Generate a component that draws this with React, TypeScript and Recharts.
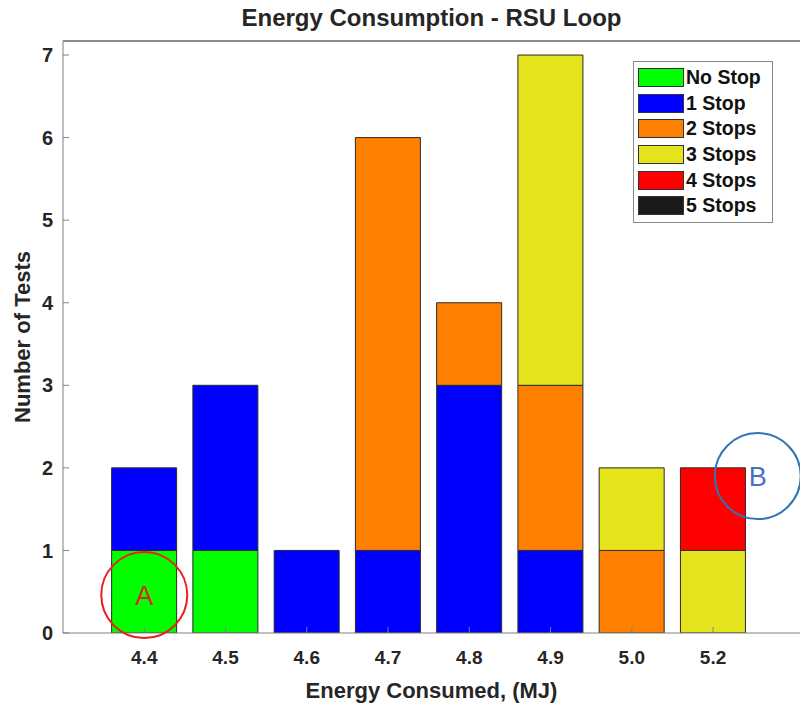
import {
  Bar,
  BarChart,
  Legend,
  ReferenceDot,
  XAxis,
  YAxis,
} from "recharts";

const energyLabels = ["4.4", "4.5", "4.6", "4.7", "4.8", "4.9", "5.0", "5.2"];
const noStop = [1, 1, 0, 0, 0, 0, 0, 0];
const oneStop = [1, 2, 1, 1, 3, 1, 0, 0];
const twoStops = [0, 0, 0, 5, 1, 2, 1, 0];
const threeStops = [0, 0, 0, 0, 0, 4, 1, 1];
const fourStops = [0, 0, 0, 0, 0, 0, 0, 1];
const fiveStops = [0, 0, 0, 0, 0, 0, 0, 0];

const seriesNames = ["No Stop", "1 Stop", "2 Stops", "3 Stops", "4 Stops", "5 Stops"];
const seriesColors = ["#00FF00", "#0000FF", "#FF8000", "#E5E41C", "#FF0000", "#1A1A1A"];
const seriesValues = [noStop, oneStop, twoStops, threeStops, fourStops, fiveStops];

const yTicks = [0, 1, 2, 3, 4, 5, 6, 7];

const data = energyLabels.map((label, i) => {
  const row: Record<string, number | string> = { pos: i + 1, label };
  seriesNames.forEach((name, s) => {
    row[name] = seriesValues[s][i];
  });
  return row;
});
const xTicks = data.map((d) => d.pos as number);

const FONT = "'Liberation Sans', Arial, sans-serif";
const TEXT = "#262626";

function LegendBox() {
  return (
    <div
      style={{
        border: "1px solid #8a8a8a",
        background: "#fff",
        padding: "3px 4px 3px 4px",
        fontFamily: FONT,
        fontWeight: "bold",
        fontSize: 19.5,
        color: "#111",
        width: 130,
      }}
    >
      {seriesNames.map((name, i) => (
        <div
          key={name}
          style={{ display: "flex", alignItems: "center", height: 25.6 }}
        >
          <span
            style={{
              display: "inline-block",
              width: 46,
              height: 19,
              background: seriesColors[i],
              border: "1px solid #333",
              boxSizing: "border-box",
              marginRight: 2,
            }}
          />
          <span>{name}</span>
        </div>
      ))}
    </div>
  );
}

export default function App() {
  return (
    <div
      style={{
        position: "absolute",
        left: 0,
        top: 0,
        width: 800,
        height: 704,
        background: "#fff",
        fontFamily: FONT,
      }}
    >
      <div
        style={{
          position: "absolute",
          top: 4,
          left: 63,
          width: 737,
          textAlign: "center",
          fontSize: 24,
          fontWeight: "bold",
          color: TEXT,
          fontFamily: FONT,
        }}
      >
        Energy Consumption - RSU Loop
      </div>
      <BarChart
        width={800}
        height={704}
        data={data}
        margin={{ top: 41, right: 0, left: 0, bottom: 0 }}
        barSize={65}
      >
        <XAxis
          dataKey="pos"
          type="number"
          domain={[0, 9.07]}
          ticks={xTicks}
          allowDataOverflow
          tickFormatter={(v: number) => energyLabels[v - 1]}
          height={71}
          tickSize={-6}
          tickMargin={24}
          stroke="#808080"
          tick={{ fill: TEXT, fontSize: 19, fontWeight: "bold", fontFamily: FONT }}
          label={{
            value: "Energy Consumed, (MJ)",
            position: "insideBottom",
            offset: 6,
            fill: TEXT,
            fontSize: 22,
            fontWeight: "bold",
            fontFamily: FONT,
          }}
        />
        <YAxis
          width={63}
          domain={[0, 7.17]}
          ticks={yTicks}
          allowDataOverflow
          tickSize={-6}
          tickMargin={16}
          stroke="#808080"
          tick={{ fill: TEXT, fontSize: 20, fontWeight: "bold", fontFamily: FONT }}
          label={{
            value: "Number of Tests",
            angle: -90,
            position: "insideLeft",
            offset: 22,
            style: { textAnchor: "middle" },
            fill: TEXT,
            fontSize: 22,
            fontWeight: "bold",
            fontFamily: FONT,
          }}
        />
        <Legend
          layout="vertical"
          align="center"
          verticalAlign="middle"
          content={() => <LegendBox />}
          wrapperStyle={{ position: "absolute", left: 633, top: 61, width: "auto" }}
        />
        {seriesNames.map((name, i) => (
          <Bar
            key={name}
            dataKey={name}
            stackId="stops"
            fill={seriesColors[i]}
            stroke="#2a2a2a"
            strokeWidth={1}
            isAnimationActive={false}
          />
        ))}
        <ReferenceDot
          x={1}
          y={0.46}
          r={43}
          fill="none"
          stroke="#E8211D"
          strokeWidth={2}
          ifOverflow="visible"
          label={{ value: "A", position: "center", fill: "#E0241F", fontSize: 27, fontFamily: FONT }}
        />
        <ReferenceDot
          x={8.55}
          y={1.9}
          r={43}
          fill="none"
          stroke="#2E75B6"
          strokeWidth={2}
          ifOverflow="visible"
          label={{ value: "B", position: "center", fill: "#4472C4", fontSize: 27, fontFamily: FONT }}
        />
      </BarChart>
      {/* top edge of the axes box, drawn over the chart */}
      <div
        style={{
          position: "absolute",
          top: 40,
          left: 63,
          width: 737,
          height: 2,
          background: "#8c8c8c",
          zIndex: 5,
        }}
      />
    </div>
  );
}
